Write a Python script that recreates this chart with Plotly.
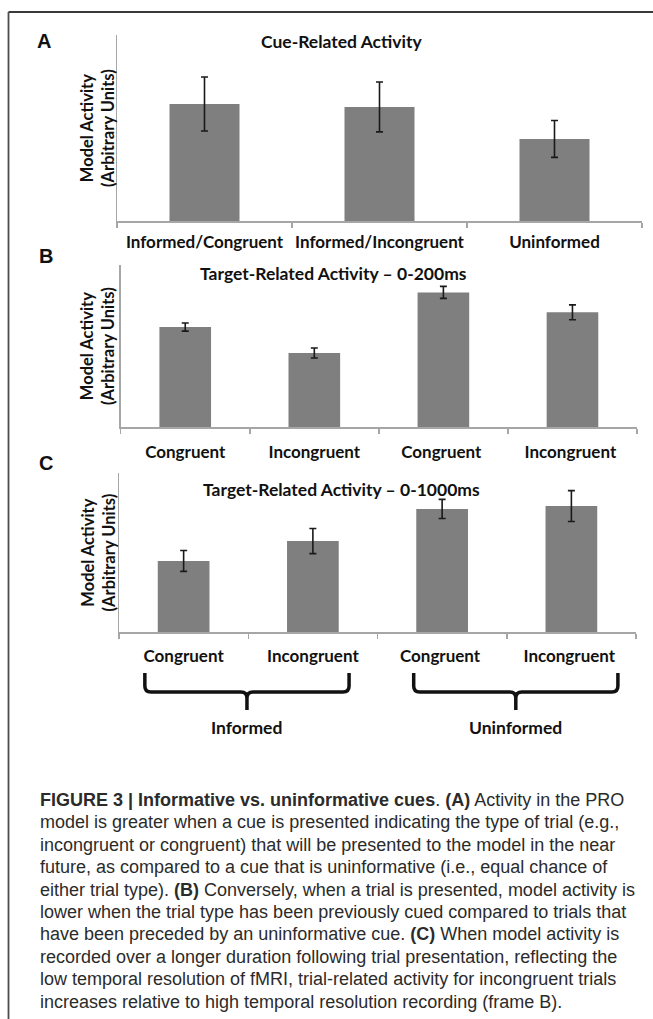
import plotly.graph_objects as go

W, H = 653, 1019

# ---------------- data ----------------
cats_a = ["Informed/Congruent", "Informed/Incongruent", "Uninformed"]
vals_a = [62.9, 61.3, 44.1]
err_a = [14.5, 13.4, 9.9]

cats_b = ["Congruent", "Incongruent", "Congruent ", "Incongruent "]
vals_b = [61.7, 45.7, 83.1, 70.8]
err_b = [2.5, 3.1, 3.7, 4.6]

cats_c = ["Congruent", "Incongruent", "Congruent ", "Incongruent "]
vals_c = [44.7, 57.2, 77.4, 79.2]
err_c = [6.6, 7.9, 6.0, 9.7]

groups_c = ["Informed", "Uninformed"]
group_members = [(0, 1), (2, 3)]

titles = ["Cue-Related Activity",
          "Target-Related Activity – 0-200ms",
          "Target-Related Activity – 0-1000ms"]
letters = ["A", "B", "C"]
ytitle = "Model Activity<br>(Arbitrary Units)"

caption_lines = [
    "<b>FIGURE 3 | Informative vs. uninformative cues</b>. <b>(A)</b> Activity in the PRO",
    "model is greater when a cue is presented indicating the type of trial (e.g.,",
    "incongruent or congruent) that will be presented to the model in the near",
    "future, as compared to a cue that is uninformative (i.e., equal chance of",
    "either trial type). <b>(B)</b> Conversely, when a trial is presented, model activity is",
    "lower when the trial type has been previously cued compared to trials that",
    "have been preceded by an uninformative cue. <b>(C)</b> When model activity is",
    "recorded over a longer duration following trial presentation, reflecting the",
    "low temporal resolution of fMRI, trial-related activity for incongruent trials",
    "increases relative to high temporal resolution recording (frame B).",
]

# ---------------- layout helpers (pixel -> paper) ----------------
def px(x):
    return x / W

def py(y):
    return 1 - y / H

panels = [
    dict(xd=(117, 642), yd=(35, 221), cats=cats_a, vals=vals_a, err=err_a,
         title_xy=(342, 42), letter_xy=(35, 41), standoff=5),
    dict(xd=(120.7, 637), yd=(265, 427), cats=cats_b, vals=vals_b, err=err_b,
         title_xy=(333, 274), letter_xy=(37, 256), standoff=9),
    dict(xd=(119, 636), yd=(473, 632), cats=cats_c, vals=vals_c, err=err_c,
         title_xy=(342, 489), letter_xy=(37, 463), standoff=8),
]

BAR = "#7f7f7f"
AXIS = "#a6a6a6"
LABEL_FONT = "Lato, 'Open Sans', sans-serif"

fig = go.Figure()
annotations = []
shapes = []

for i, p in enumerate(panels):
    n = "" if i == 0 else str(i + 1)
    fig.add_trace(go.Bar(
        x=p["cats"], y=p["vals"],
        xaxis="x" + n, yaxis="y" + n,
        marker=dict(color=BAR, line=dict(width=0)),
        error_y=dict(type="data", array=p["err"], visible=True,
                     color="#1a1a1a", thickness=1.6, width=3.5),
        showlegend=False, hoverinfo="skip",
    ))
    fig.layout["xaxis" + n] = dict(
        domain=[px(p["xd"][0]), px(p["xd"][1])],
        anchor="y" + n, type="category",
        showline=True, linecolor=AXIS, linewidth=1.5,
        ticks="outside", tickson="boundaries", ticklen=5,
        tickcolor=AXIS, tickwidth=1.5, tickangle=0,
        showgrid=False, zeroline=False,
        tickfont=dict(family=LABEL_FONT, size=17, color="#111111", weight="bold"),
        ticklabelstandoff=p["standoff"],
        fixedrange=True,
    )
    fig.layout["yaxis" + n] = dict(
        domain=[py(p["yd"][1]), py(p["yd"][0])],
        anchor="x" + n, range=[0, 100],
        showline=True, linecolor=AXIS, linewidth=1.5,
        showticklabels=False, ticks="", showgrid=False, zeroline=False,
        fixedrange=True,
    )
    annotations.append(dict(
        text="<b>" + titles[i] + "</b>", x=px(p["title_xy"][0]), y=py(p["title_xy"][1]),
        xref="paper", yref="paper", showarrow=False, xanchor="center", yanchor="middle",
        font=dict(family=LABEL_FONT, size=17.5, color="#111111"),
    ))
    annotations.append(dict(
        text="<b>" + letters[i] + "</b>", x=px(p["letter_xy"][0]), y=py(p["letter_xy"][1]),
        xref="paper", yref="paper", showarrow=False, xanchor="left", yanchor="middle",
        font=dict(family="Liberation Sans, Arial, sans-serif", size=20, color="#111111"),
    ))
    annotations.append(dict(
        text="<b>" + ytitle + "</b>", x=px(98), y=py((p["yd"][0] + p["yd"][1]) / 2),
        xref="paper", yref="paper", showarrow=False, xanchor="center", yanchor="middle",
        textangle=-90,
        font=dict(family=LABEL_FONT, size=16.5, color="#111111"),
    ))

# ---------------- braces under panel C ----------------
pc = panels[2]
ncat = len(cats_c)
step = (pc["xd"][1] - pc["xd"][0]) / ncat

def cat_px(idx):
    return pc["xd"][0] + (idx + 0.5) * step

brace_pad = [(-0.30, 0.28), (-0.22, 0.36)]   # extent beyond first/last bar (category units)
top, mid, tip, r = 673, 692, 710, 6
for name, (i0, i1), (pl, pr) in zip(groups_c, group_members, brace_pad):
    L = cat_px(i0 + pl)
    R = cat_px(i1 + pr)
    M = (L + R) / 2
    path = (
        f"M {px(L)},{py(top)} L {px(L)},{py(mid - r)} "
        f"Q {px(L)},{py(mid)} {px(L + r)},{py(mid)} "
        f"L {px(M - r)},{py(mid)} Q {px(M)},{py(mid)} {px(M)},{py(mid + r)} "
        f"L {px(M)},{py(tip)} "
        f"M {px(M)},{py(mid + r)} Q {px(M)},{py(mid)} {px(M + r)},{py(mid)} "
        f"L {px(R - r)},{py(mid)} Q {px(R)},{py(mid)} {px(R)},{py(mid - r)} "
        f"L {px(R)},{py(top)}"
    )
    shapes.append(dict(type="path", path=path, xref="paper", yref="paper",
                       line=dict(color="#111111", width=3.5)))
    annotations.append(dict(
        text="<b>" + name + "</b>", x=px(M), y=py(727),
        xref="paper", yref="paper", showarrow=False, xanchor="center", yanchor="middle",
        font=dict(family=LABEL_FONT, size=17.5, color="#111111"),
    ))

# ---------------- frame (top and left edges) ----------------
shapes.append(dict(type="line", xref="paper", yref="paper",
                   x0=px(8.5), x1=1, y0=py(12), y1=py(12),
                   line=dict(color="#3a3a3a", width=2.2)))
shapes.append(dict(type="line", xref="paper", yref="paper",
                   x0=px(8.5), x1=px(8.5), y0=py(12), y1=0,
                   line=dict(color="#4d4d4d", width=1.8)))

# ---------------- caption ----------------
for k, line in enumerate(caption_lines):
    annotations.append(dict(
        text=line, x=px(38), y=py(800 + 22.4 * k),
        xref="paper", yref="paper", showarrow=False, xanchor="left", yanchor="middle",
        font=dict(family="Liberation Sans, Arial, sans-serif", size=18, color="#2b2b2b"),
    ))

fig.update_layout(
    width=W, height=H,
    margin=dict(l=0, r=0, t=0, b=0),
    paper_bgcolor="white", plot_bgcolor="white",
    bargap=0.6,
    annotations=annotations,
    shapes=shapes,
)

fig.write_html(
    "out.html",
    config={"displayModeBar": False, "staticPlot": True},
    post_script="document.body.style.margin='0';document.body.style.overflow='hidden';",
)
